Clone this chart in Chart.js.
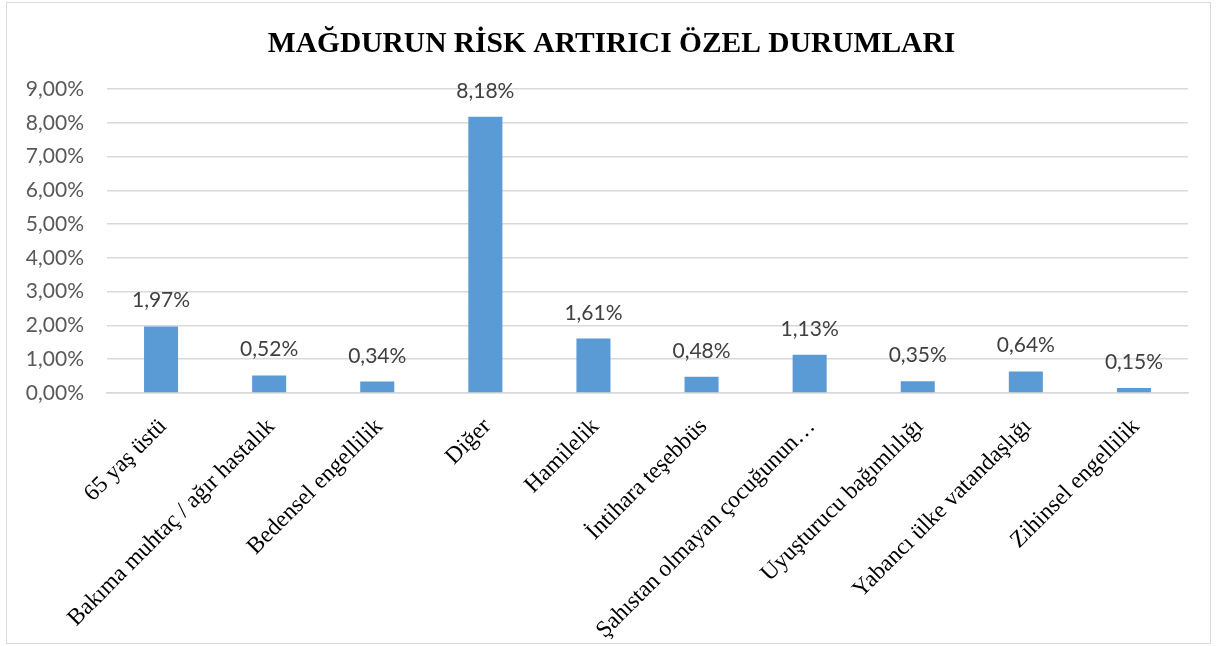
<!DOCTYPE html>
<html>
<head>
<meta charset="utf-8">
<script src="https://cdn.jsdelivr.net/npm/chart.js@4.4.0/dist/chart.umd.min.js"></script>
<style>
  html, body { margin: 0; padding: 0; background: #fff; }
  #box { position: absolute; left: 6px; top: 2px; width: 1205px; height: 642px; border: 1px solid #d9d9d9; box-sizing: border-box; }
  canvas { display: block; }
</style>
</head>
<body>
<div id="box"><canvas id="c"></canvas></div>
<script>
const titleText = "MAĞDURUN RİSK ARTIRICI ÖZEL DURUMLARI";
const categories = [
  "65 yaş üstü",
  "Bakıma muhtaç / ağır hastalık",
  "Bedensel engellilik",
  "Diğer",
  "Hamilelik",
  "İntihara teşebbüs",
  "Şahıstan olmayan çocuğunun…",
  "Uyuşturucu bağımlılığı",
  "Yabancı ülke vatandaşlığı",
  "Zihinsel engellilik"
];
const values = [1.97, 0.52, 0.34, 8.18, 1.61, 0.48, 1.13, 0.35, 0.64, 0.15];
const yTicks = [0, 1, 2, 3, 4, 5, 6, 7, 8, 9];

const fmt = v => v.toFixed(2).replace('.', ',') + '%';

const labelPlugin = {
  id: 'barLabels',
  afterDatasetsDraw(chart) {
    const ctx = chart.ctx;
    const meta = chart.getDatasetMeta(0);
    ctx.save();
    ctx.font = '21px Lato';
    ctx.fillStyle = '#404040';
    ctx.textAlign = 'center';
    ctx.textBaseline = 'alphabetic';
    meta.data.forEach((el, i) => {
      ctx.fillText(fmt(values[i]), el.x, el.y - 19);
    });
    ctx.restore();
  }
};

const titlePlugin = {
  id: 'centerTitle',
  afterDraw(chart) {
    const ctx = chart.ctx;
    ctx.save();
    ctx.font = 'bold 29.5px "Liberation Serif"';
    ctx.fillStyle = '#000';
    ctx.textAlign = 'center';
    ctx.textBaseline = 'alphabetic';
    ctx.fillText(titleText, chart.width / 2 + 3, 49);
    ctx.restore();
  }
};

new Chart(document.getElementById('c'), {
  type: 'bar',
  data: {
    labels: categories,
    datasets: [{
      data: values,
      backgroundColor: '#5B9BD5',
      borderWidth: 0,
      barPercentage: 0.315,
      categoryPercentage: 1.0
    }]
  },
  options: {
    responsive: true,
    maintainAspectRatio: false,
    animation: false,
    layout: { padding: { left: 0, right: 22, top: 86, bottom: 0 } },
    plugins: {
      legend: { display: false },
      tooltip: { enabled: false },
      title: { display: false }
    },
    scales: {
      x: {
        grid: { display: false, drawTicks: false },
        border: { display: true, color: '#d9d9d9', width: 1.5 },
        ticks: {
          color: '#000',
          font: { family: 'Liberation Serif', size: 23.5 },
          maxRotation: 45, minRotation: 45,
          autoSkip: false,
          padding: 20,
          labelOffset: 2
        },
        afterFit(scale) { scale.height = 250; }
      },
      y: {
        min: 0, max: 9,
        afterBuildTicks(scale) { scale.ticks = yTicks.map(v => ({ value: v })); },
        grid: { color: '#d9d9d9', lineWidth: 1.5, drawTicks: false },
        border: { display: false },
        ticks: {
          color: '#595959',
          font: { family: 'Lato', size: 21 },
          padding: 23,
          callback: v => fmt(v)
        },
        afterFit(scale) { scale.width = 100; }
      }
    }
  },
  plugins: [labelPlugin, titlePlugin]
});
</script>
</body>
</html>
